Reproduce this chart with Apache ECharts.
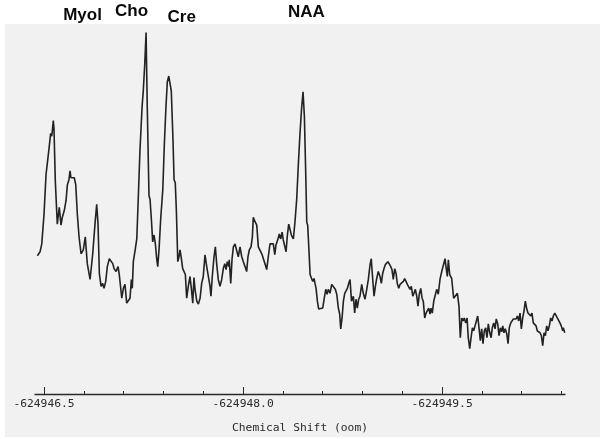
<!DOCTYPE html>
<html>
<head>
<meta charset="utf-8">
<script src="https://cdn.jsdelivr.net/npm/echarts@6/dist/echarts.min.js"></script>
<style>
html,body{margin:0;padding:0;background:#fff;}
#chart{width:600px;height:439px;}
</style>
</head>
<body>
<div id="chart"></div>
<script>
// Chemical shift (ppm) = ppmBase - ppmOffset[i]
const ppmBase = -624946.5;
const ppmOffset = [
-0.050,-0.030,-0.017,0.000,0.015,0.025,0.038,0.050,0.058,0.063,0.070,0.075,0.085,0.100,0.115,0.128,0.138,0.153,0.166,0.176,
0.188,0.196,0.203,0.216,0.228,0.239,0.251,0.264,0.279,0.296,0.311,0.326,0.347,0.367,0.384,0.397,0.407,0.417,0.430,0.442,
0.452,0.465,0.477,0.492,0.505,0.518,0.528,0.543,0.558,0.567,0.586,0.598,0.610,0.623,0.638,0.648,0.658,0.665,0.673,0.688,
0.699,0.711,0.723,0.739,0.748,0.759,0.769,0.778,0.791,0.799,0.809,0.819,0.829,0.839,0.849,0.857,0.867,0.879,0.895,0.907,
0.919,0.929,0.940,0.950,0.959,0.972,0.980,0.989,0.997,1.008,1.017,1.025,1.035,1.045,1.055,1.065,1.075,1.087,1.100,1.110,
1.121,1.130,1.138,1.151,1.163,1.176,1.188,1.200,1.213,1.226,1.238,1.251,1.258,1.268,1.281,1.291,1.301,1.313,1.326,1.339,
1.351,1.362,1.372,1.381,1.392,1.396,1.407,1.417,1.427,1.439,1.452,1.464,1.477,1.490,1.502,1.515,1.527,1.537,1.547,1.560,
1.570,1.577,1.585,1.592,1.603,1.615,1.628,1.641,1.653,1.665,1.678,1.690,1.703,1.716,1.728,1.739,1.748,1.763,1.773,1.784,
1.794,1.803,1.816,1.824,1.834,1.844,1.854,1.864,1.879,1.891,1.904,1.916,1.929,1.942,1.952,1.962,1.972,1.980,1.987,1.997,
2.005,2.014,2.025,2.035,2.042,2.050,2.060,2.070,2.085,2.100,2.112,2.123,2.133,2.142,2.155,2.168,2.180,2.195,2.206,2.218,
2.228,2.236,2.246,2.256,2.266,2.276,2.286,2.296,2.306,2.317,2.331,2.341,2.351,2.361,2.371,2.381,2.394,2.406,2.419,2.432,
2.444,2.457,2.466,2.477,2.487,2.497,2.507,2.519,2.532,2.542,2.552,2.562,2.572,2.583,2.592,2.602,2.613,2.622,2.632,2.643,
2.653,2.662,2.673,2.683,2.696,2.708,2.718,2.728,2.738,2.748,2.758,2.768,2.779,2.788,2.798,2.809,2.818,2.828,2.839,2.849,
2.858,2.869,2.879,2.888,2.899,2.909,2.916,2.926,2.937,2.946,2.959,2.971,2.984,2.997,3.009,3.022,3.029,3.039,3.047,3.057,
3.072,3.087,3.102,3.115,3.127,3.137,3.148,3.158,3.167,3.178,3.188,3.197,3.208,3.218,3.228,3.238,3.248,3.258,3.268,3.278,
3.288,3.298,3.308,3.318,3.328,3.338,3.348,3.359,3.369,3.378,3.389,3.399,3.408,3.419,3.429,3.439,3.449,3.457,3.466,3.476,
3.487,3.497,3.506,3.517,3.527,3.537,3.547,3.557,3.567,3.577,3.587,3.597,3.607,3.617,3.627,3.638,3.647,3.657,3.668,3.677,
3.687,3.698,3.708,3.717,3.728,3.738,3.748,3.758,3.768,3.778,3.788,3.798,3.808,3.818,3.828,3.838,3.849,3.858,3.868,3.879,
3.888,3.898,3.909,3.913,3.924
];
const intensity = [
140,144,152,182,222,224,249,264,261,267,277,269,216,172,189,171,179,186,196,212,
217,226,219,221,219,212,182,159,142,146,159,132,116,142,172,192,172,122,109,112,
107,114,129,137,139,132,127,124,129,121,97,107,111,92,91,97,116,107,134,147,
157,201,247,291,307,334,366,291,201,197,177,154,161,152,137,129,147,177,207,254,
291,316,322,321,307,257,217,214,187,134,139,146,137,127,129,121,97,109,119,107,
92,118,106,94,91,97,112,119,141,129,129,109,99,119,139,149,132,116,109,116,
127,132,126,134,129,136,112,137,149,152,151,139,149,139,134,129,124,139,146,149,
159,179,176,177,171,149,147,142,142,132,126,139,152,153,152,141,151,157,162,157,
164,156,154,144,161,172,172,161,157,174,197,231,264,291,306,281,224,174,171,144,
121,122,114,117,112,107,94,86,86,87,97,106,101,106,102,111,109,106,101,87,
81,66,77,94,102,101,107,112,116,94,99,82,96,87,96,99,111,102,96,106,
116,131,137,116,99,109,117,124,119,112,122,127,131,131,134,132,129,126,116,127,
122,112,107,111,112,114,117,116,111,112,106,109,99,102,106,99,89,101,107,97,
94,77,82,81,87,81,87,82,94,99,106,101,116,124,126,137,129,119,136,121,
117,97,96,102,89,57,77,74,77,72,77,57,46,57,67,64,69,74,79,67,
54,66,51,64,67,57,71,62,57,67,72,66,76,71,59,67,63,69,62,66,
61,51,67,72,74,76,77,76,79,74,82,66,77,84,94,86,82,84,79,82,
72,71,69,64,66,62,59,49,62,59,69,64,69,77,74,79,82,81,77,76,
72,69,64,67,62
];
const tickValues = [-624946.5,-624946.8,-624947.1,-624947.4,-624947.7,-624948.0,-624948.3,-624948.6,-624948.9,-624949.2,-624949.5,-624949.8,-624950.1,-624950.4];
const labelValues = [-624946.5,-624948.0,-624949.5];
const peakNames = ['Myol','Cho','Cre','NAA'];
const axisTitle = 'Chemical Shift (oom)';

const xMin = -624950.426, xMax = -624946.432;
const data = ppmOffset.map((d, i) => [ppmBase - d, intensity[i]]);

const chart = echarts.init(document.getElementById('chart'), null, {renderer: 'canvas'});
const mono = '"DejaVu Sans Mono", monospace';
const peakPos = [[82.5, 15.5], [131.5, 11.3], [181.7, 17.2], [306.3, 12.2]];
chart.setOption({
  backgroundColor: '#ffffff',
  animation: false,
  grid: {left: 35, right: 35, top: 0, bottom: 40},
  xAxis: [{
    type: 'value', min: xMin, max: xMax, inverse: true,
    axisLine: {show: true, lineStyle: {color: '#2a2a2a', width: 1.3}},
    axisTick: {show: true, inside: true, length: 3, customValues: tickValues, lineStyle: {color: '#2a2a2a', width: 1}},
    axisLabel: {show: true, customValues: labelValues, formatter: v => v.toFixed(1), margin: 5,
      fontFamily: mono, fontSize: 11.3, color: '#2a2a2a'},
    splitLine: {show: false},
    name: axisTitle, nameLocation: 'middle', nameGap: 29,
    nameTextStyle: {fontFamily: mono, fontSize: 11.3, color: '#2a2a2a'}
  }, {
    type: 'value', min: xMin, max: xMax, inverse: true, position: 'bottom',
    axisLine: {show: false},
    axisTick: {show: true, inside: true, length: 7, customValues: labelValues, lineStyle: {color: '#2a2a2a', width: 1}},
    axisLabel: {show: false},
    splitLine: {show: false}
  }],
  yAxis: {type: 'value', min: 0, max: 399, show: false, splitLine: {show: false}},
  graphic: [
    {type: 'rect', z: -10, silent: true, shape: {x: 5, y: 24, width: 595, height: 413}, style: {fill: '#f1f1f1'}}
  ].concat(peakNames.map((t, i) => ({
    type: 'text', silent: true,
    style: {text: t, x: peakPos[i][0], y: peakPos[i][1], align: 'center', verticalAlign: 'middle',
      font: 'bold 17px "Liberation Sans", Arial, sans-serif', fill: '#0a0a0a'}
  }))),
  series: [{
    type: 'line', data: data, showSymbol: false, symbol: 'none', smooth: false,
    lineStyle: {color: '#222222', width: 1.6}, xAxisIndex: 0, yAxisIndex: 0
  }]
});
</script>
</body>
</html>
